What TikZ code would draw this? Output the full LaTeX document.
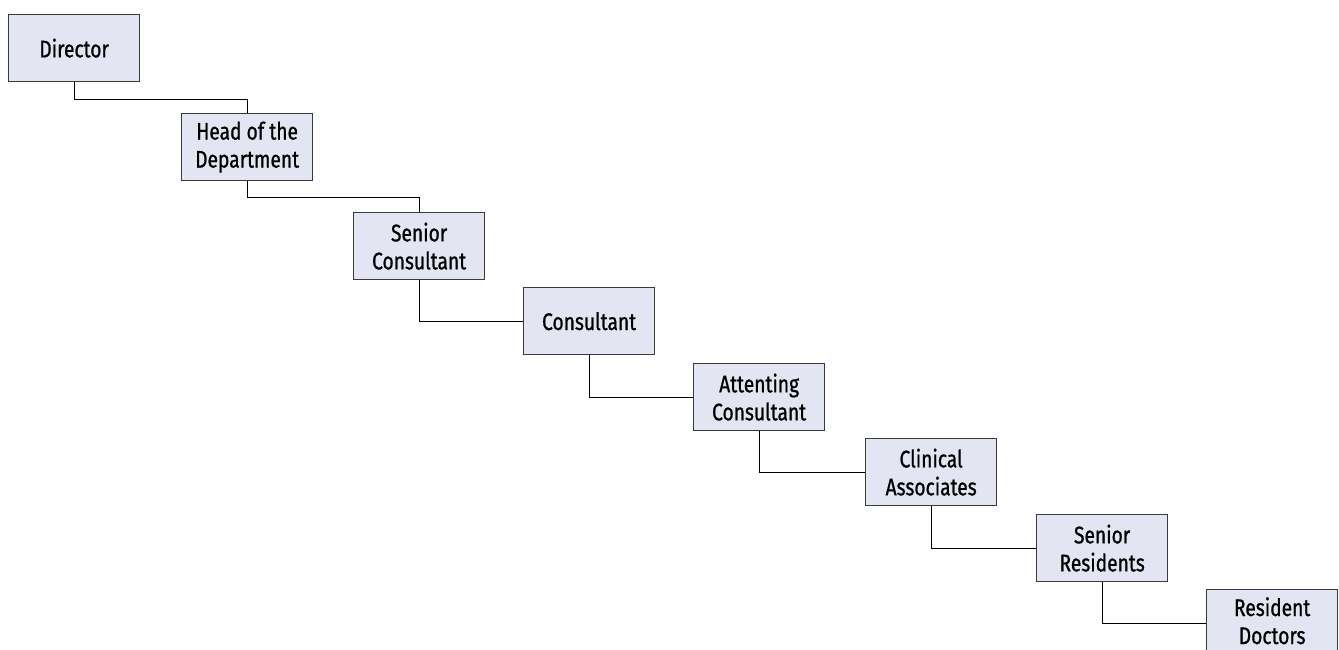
\documentclass[tikz,border=0pt]{standalone}
\usepackage{fontspec}
\setmainfont{Fira Sans}[FakeStretch=0.8, FakeBold=0.8, Ligatures=NoCommon]
\definecolor{boxfill}{HTML}{E4E5F2}
\definecolor{boxline}{HTML}{3A3A3A}
\tikzset{
  rolebox/.style={draw=boxline, line width=1.3pt, fill=boxfill, minimum width=131pt, minimum height=67pt,
    inner sep=0pt, align=center, font=\fontsize{24}{28}\selectfont, anchor=north west},
  link/.style={draw=black, line width=1pt}
}
\begin{document}
\begin{tikzpicture}[x=1pt,y=-1pt]
\useasboundingbox (0,0) rectangle (1339,650);
\node[rolebox] (dir) at (8,14) {Director};
\node[rolebox] (head) at (181,113) {Head of the\\Department};
\node[rolebox] (sc) at (353,212) {Senior\\Consultant};
\node[rolebox] (con) at (523,287) {Consultant};
\node[rolebox] (att) at (693,363) {Attenting\\Consultant};
\node[rolebox] (cli) at (865,438) {Clinical\\Associates};
\node[rolebox] (sr) at (1036,514) {Senior\\Residents};
\node[rolebox] (rd) at (1206,589) {Resident\\Doctors\rule[-5pt]{0pt}{5pt}};
\draw[link] (dir.south) -- ++(0,17) -| (head.north);
\draw[link] (head.south) -- ++(0,16) -| (sc.north);
\draw[link] (sc.south) |- (con.west);
\draw[link] (con.south) |- (att.west);
\draw[link] (att.south) |- (cli.west);
\draw[link] (cli.south) |- (sr.west);
\draw[link] (sr.south) |- (rd.west);
\end{tikzpicture}
\end{document}
